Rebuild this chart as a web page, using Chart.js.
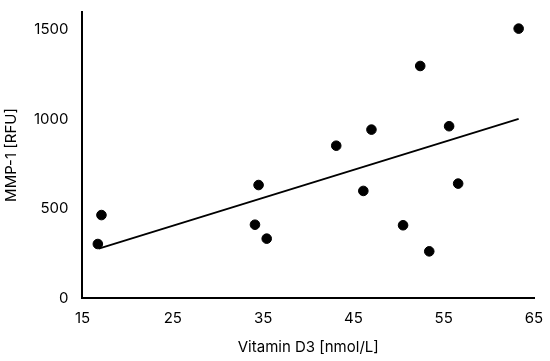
<!DOCTYPE html>
<html><head><meta charset="utf-8">
<script src="https://cdn.jsdelivr.net/npm/chart.js@4"></script>
<style>html,body{margin:0;padding:0;background:#fff}#wrap{width:550px;height:361px}</style>
</head><body><div id="wrap"><canvas id="c" width="550" height="361"></canvas></div>
<script>
const vitaminD3 = [16.7, 17.1, 34.5, 34.1, 35.4, 43.1, 47.0, 52.4, 55.6, 63.3, 46.1, 50.5, 53.4, 56.6];
const mmp1 = [302, 464, 632, 410, 332, 852, 942, 1298, 961, 1507, 599, 407, 261, 640];
const trendX = [16.8, 63.3];
const trendY = [276, 1002];
const xTicks = [15, 25, 35, 45, 55, 65];
const yTicks = [0, 500, 1000, 1500];

const font = {family: 'Inter, "Open Sans", sans-serif', size: 15};
new Chart(document.getElementById('c'), {
  type: 'scatter',
  data: {datasets: [
    {data: vitaminD3.map((x,i)=>({x, y: mmp1[i]})), backgroundColor:'#000', borderColor:'#000', pointRadius:4.8, pointHoverRadius:4.8},
    {type:'line', data: trendX.map((x,i)=>({x, y: trendY[i]})), borderColor:'#000', borderWidth:1.8, pointRadius:0, fill:false}
  ]},
  options: {
    responsive:false, animation:false,
    layout:{padding:{top:12, right:16, left:2, bottom:5}},
    plugins:{legend:{display:false}, tooltip:{enabled:false}},
    scales:{
      x:{type:'linear', min:15, max:65,
        afterBuildTicks: s => { s.ticks = xTicks.map(v=>({value:v})); },
        afterFit: s => { s.paddingRight = 0; s.paddingLeft = 0; },
        grid:{display:false, drawTicks:false}, border:{display:true, color:'#000', width:2},
        ticks:{color:'#000', font, padding:11, callback: v => String(v)},
        title:{display:true, text:'Vitamin D3 [nmol/L]', color:'#000', font, padding:{top:0, bottom:0}}},
      y:{min:0, max:1600,
        afterBuildTicks: s => { s.ticks = yTicks.map(v=>({value:v})); },
        afterFit: s => { s.paddingTop = 0; s.paddingBottom = 0; },
        grid:{display:false, drawTicks:false}, border:{display:true, color:'#000', width:2},
        ticks:{color:'#000', font, padding:14, callback: v => String(v)},
        title:{display:true, text:'MMP-1 [RFU]', color:'#000', font, padding:{top:0, bottom:0}}}
    }
  }
});
</script></body></html>
